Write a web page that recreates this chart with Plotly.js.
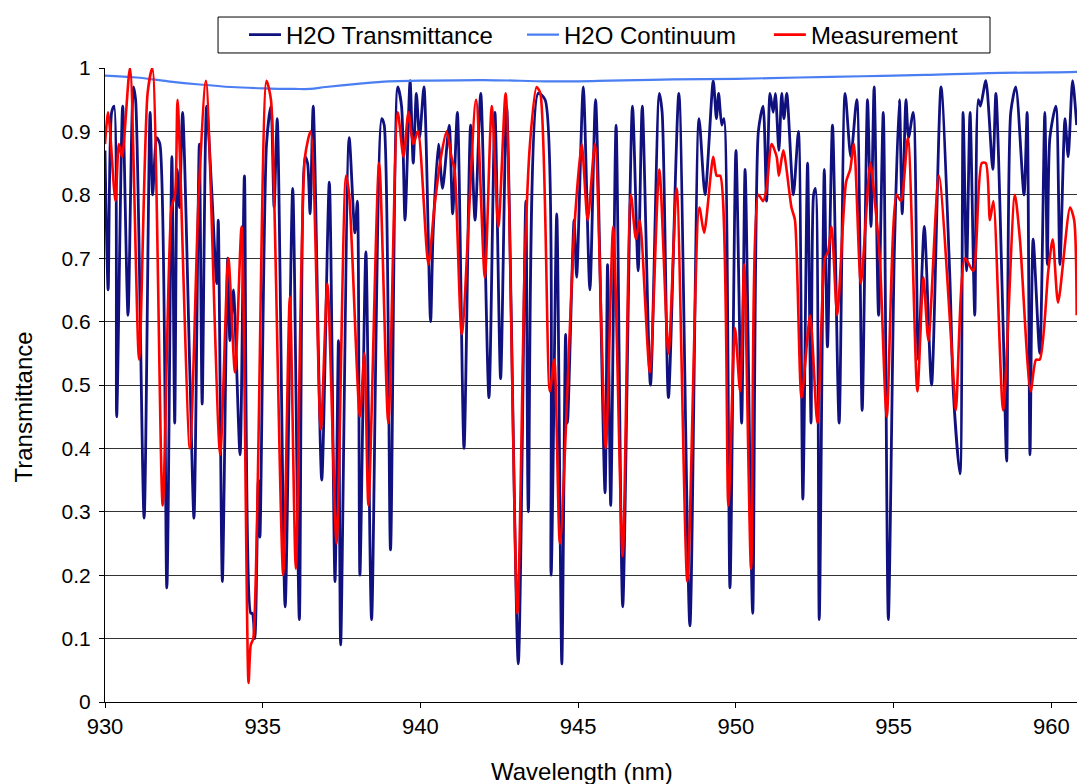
<!DOCTYPE html>
<html>
<head>
<meta charset="utf-8">
<script src="https://cdn.plot.ly/plotly-3.0.1.min.js"></script>
<style>
html,body{margin:0;padding:0;background:#fff;}
#chart{width:1077px;height:784px;}
</style>
</head>
<body>
<div id="chart"></div>
<script>
// H2O Transmittance (model), wavelength in nm
var h2oWavelength = [
930.00,930.10,930.21,930.29,930.37,930.56,930.73,930.90,930.97,931.24,
931.43,931.51,931.64,931.74,931.96,932.12,932.21,932.29,932.36,932.46,
932.69,932.82,932.99,933.08,933.22,933.38,933.54,933.59,933.72,933.89,
933.96,934.07,934.28,934.42,934.62,934.67,934.75,934.86,934.91,935.12,
935.26,935.36,935.46,935.71,935.95,936.16,936.34,936.42,936.50,936.60,
936.87,937.11,937.29,937.40,937.47,937.74,937.92,938.00,938.08,938.27,
938.45,938.77,938.85,939.05,939.28,939.40,939.51,939.67,939.77,939.87,
939.97,940.11,940.32,940.40,940.57,940.70,940.91,941.02,941.17,941.38,
941.59,941.73,941.91,942.17,942.36,942.54,942.73,943.10,943.34,943.42,
943.73,943.95,944.14,944.32,944.48,944.60,944.66,944.87,944.95,945.16,
945.37,945.55,945.85,945.93,946.03,946.20,946.41,946.72,946.90,947.03,
947.29,947.57,947.66,947.86,948.19,948.54,948.83,949.02,949.28,949.38,
949.45,949.55,949.62,949.81,950.00,950.18,950.29,950.53,950.71,950.86,
950.97,951.08,951.18,951.25,951.36,951.45,951.52,951.61,951.82,951.98,
952.12,952.27,952.38,952.46,952.52,952.64,952.80,952.90,953.06,953.27,
953.46,953.64,953.83,954.00,954.17,954.28,954.38,954.52,954.67,954.83,
955.02,955.18,955.27,955.39,955.47,955.62,955.78,955.97,956.20,956.50,
956.78,956.89,957.10,957.20,957.31,957.42,957.57,957.68,957.75,957.92,
958.14,958.24,958.47,958.58,958.71,958.87,959.13,959.23,959.32,959.42,
959.63,959.79,959.87,959.95,960.14,960.27,960.43,960.53,960.67,960.80
];
var h2oTransmittance = [
0.87,0.65,0.93,0.94,0.45,0.94,0.61,0.97,0.95,0.29,
0.93,0.80,0.89,0.88,0.18,0.86,0.44,0.84,0.78,0.93,
0.52,0.29,0.88,0.47,0.94,0.81,0.66,0.76,0.19,0.70,
0.57,0.65,0.39,0.83,0.14,0.14,0.10,0.35,0.26,0.88,
0.94,0.78,0.92,0.15,0.81,0.13,0.86,0.85,0.77,0.94,
0.35,0.82,0.19,0.57,0.09,0.89,0.74,0.79,0.20,0.71,
0.13,0.92,0.91,0.24,0.97,0.94,0.76,0.98,0.85,0.96,
0.89,0.97,0.60,0.74,0.88,0.81,0.91,0.77,0.93,0.40,
0.91,0.76,0.96,0.48,0.93,0.51,0.94,0.06,0.79,0.30,
0.96,0.95,0.20,0.77,0.06,0.58,0.44,0.76,0.67,0.97,
0.65,0.95,0.33,0.69,0.31,0.91,0.15,0.94,0.68,0.94,
0.50,0.96,0.93,0.48,0.96,0.12,0.92,0.80,0.98,0.92,
0.96,0.91,0.92,0.18,0.87,0.44,0.84,0.14,0.90,0.94,
0.79,0.96,0.93,0.96,0.87,0.96,0.92,0.96,0.80,0.90,
0.32,0.85,0.44,0.80,0.81,0.13,0.84,0.56,0.91,0.44,
0.96,0.86,0.95,0.46,0.95,0.75,0.97,0.61,0.93,0.13,
0.71,0.95,0.77,0.95,0.89,0.93,0.54,0.75,0.50,0.97,
0.67,0.49,0.36,0.93,0.68,0.93,0.61,0.95,0.94,0.98,
0.84,0.96,0.59,0.38,0.93,0.97,0.80,0.93,0.39,0.73,
0.55,0.93,0.69,0.89,0.94,0.69,0.92,0.86,0.98,0.91
];

// H2O Continuum
var contWavelength = [930,931,932,933,934,935,936,936.5,937,938,939,940,942,944,945,946,948,950,952,954,956,958,960,960.9];
var contValue = [0.988,0.985,0.979,0.974,0.970,0.968,0.967,0.967,0.970,0.975,0.979,0.980,0.981,0.979,0.979,0.980,0.982,0.983,0.985,0.987,0.989,0.992,0.993,0.994];

// Measurement
var measWavelength = [
930.00,930.10,930.33,930.44,930.54,930.79,931.08,931.35,931.50,931.83,
932.11,932.22,932.30,932.69,932.97,933.20,933.65,933.91,934.12,934.33,
934.55,934.62,934.70,935.12,935.26,935.37,935.65,935.86,936.05,936.34,
936.52,936.84,937.05,937.34,937.64,937.74,938.08,938.22,938.35,938.69,
938.98,939.28,939.46,939.62,939.77,939.92,940.25,940.44,940.65,940.83,
940.98,941.08,941.31,941.76,942.04,942.26,942.47,942.70,943.07,943.31,
943.47,943.68,943.80,944.10,944.24,944.42,944.88,945.11,945.30,945.53,
945.87,946.11,946.41,946.67,946.83,946.95,947.27,947.57,947.86,948.12,
948.46,948.84,948.99,949.28,949.39,949.50,949.76,949.97,950.13,950.26,
950.48,950.71,950.86,950.97,951.13,951.29,951.36,951.50,951.76,951.87,
952.08,952.35,952.58,952.82,952.92,953.03,953.21,953.49,953.62,953.74,
953.96,954.26,954.42,954.56,954.78,955.09,955.23,955.45,955.75,955.94,
956.10,956.43,956.86,956.97,957.26,957.52,957.79,957.92,958.05,958.16,
958.47,958.84,959.00,959.34,959.51,959.63,959.90,960.04,960.21,960.59,
960.72,960.80
];
var measurement = [
0.88,0.93,0.79,0.88,0.86,1.00,0.54,0.96,1.00,0.31,
0.78,0.80,0.95,0.40,0.80,0.98,0.39,0.70,0.52,0.75,
0.03,0.09,0.10,0.98,0.95,0.78,0.20,0.64,0.21,0.86,
0.90,0.43,0.66,0.25,0.83,0.80,0.45,0.55,0.31,0.85,
0.44,0.93,0.86,0.93,0.88,0.90,0.69,0.78,0.86,0.90,
0.86,0.84,0.58,0.95,0.67,0.94,0.75,0.96,0.14,0.70,
0.88,0.97,0.96,0.49,0.54,0.25,0.75,0.88,0.76,0.88,
0.40,0.75,0.23,0.80,0.73,0.76,0.52,0.84,0.55,0.81,
0.19,0.78,0.74,0.86,0.83,0.83,0.31,0.59,0.49,0.69,
0.21,0.80,0.79,0.81,0.88,0.86,0.83,0.87,0.78,0.76,
0.48,0.61,0.44,0.70,0.71,0.75,0.61,0.82,0.84,0.88,
0.66,0.85,0.78,0.70,0.45,0.80,0.79,0.89,0.49,0.67,
0.57,0.83,0.54,0.46,0.70,0.68,0.85,0.85,0.76,0.79,
0.46,0.80,0.73,0.49,0.54,0.54,0.68,0.73,0.63,0.78,
0.76,0.61
];

var xTickVals = [930,935,940,945,950,955,960];
var yTickVals = [0,0.1,0.2,0.3,0.4,0.5,0.6,0.7,0.8,0.9,1];

var FONT = 'Liberation Sans, Arial, sans-serif';
var LEGFONT = {family:FONT, size:24, color:'#000'};

var traces = [
  {x: h2oWavelength, y: h2oTransmittance, type:'scatter', mode:'lines', name:'H2O Transmittance', legend:'legend',
   line:{color:'#10107f', width:2.8, shape:'spline', smoothing:0.7}},
  {x: contWavelength, y: contValue, type:'scatter', mode:'lines', name:'H2O Continuum', legend:'legend2',
   line:{color:'#4a7ef2', width:2.2, shape:'spline'}},
  {x: measWavelength, y: measurement, type:'scatter', mode:'lines', name:'Measurement', legend:'legend3',
   line:{color:'#ff0000', width:2.6, shape:'spline', smoothing:0.7}}
];

function legendAt(xp) {
  return {orientation:'h', x:xp, xanchor:'left', y:1.052, yanchor:'middle',
          bgcolor:'rgba(0,0,0,0)', borderwidth:0, font:LEGFONT, itemwidth:32};
}

var layout = {
  width:1077, height:784,
  margin:{l:105, r:0, t:68, b:82},
  paper_bgcolor:'#fff', plot_bgcolor:'#fff',
  font:{family:FONT, size:21, color:'#000'},
  showlegend:true,
  legend: legendAt(0.143),
  legend2: legendAt(0.429),
  legend3: legendAt(0.683),
  shapes:[
    {type:'rect', xref:'paper', yref:'paper', x0:0.1163, x1:0.9105, y0:1.0237, y1:1.0804,
     line:{color:'#000', width:1}, fillcolor:'rgba(0,0,0,0)', layer:'below'}
  ],
  xaxis:{range:[930,960.81], tickvals:xTickVals, ticktext:xTickVals.map(String),
         showgrid:false, zeroline:false, showline:true, linecolor:'#000', linewidth:1,
         ticks:'outside', ticklen:5, tickcolor:'#000', tickfont:{family:FONT, size:22}},
  yaxis:{range:[0,1], tickvals:yTickVals, ticktext:yTickVals.map(String),
         showgrid:true, gridcolor:'#333', gridwidth:1, zeroline:false,
         showline:true, linecolor:'#000', linewidth:1,
         ticks:'outside', ticklen:5, tickcolor:'#000', tickfont:{family:FONT, size:21},
         ticklabelstandoff:4},
  annotations:[
    {text:'Wavelength (nm)', xref:'paper', yref:'paper', x:0.491, y:-0.110, xanchor:'center', yanchor:'middle',
     showarrow:false, font:{family:FONT, size:24, color:'#000'}},
    {text:'Transmittance', xref:'paper', yref:'paper', x:-0.084, y:0.465, xanchor:'center', yanchor:'middle',
     textangle:-90, showarrow:false, font:{family:FONT, size:24, color:'#000'}}
  ]
};

Plotly.newPlot('chart', traces, layout, {displayModeBar:false, staticPlot:true});
</script>
</body>
</html>
